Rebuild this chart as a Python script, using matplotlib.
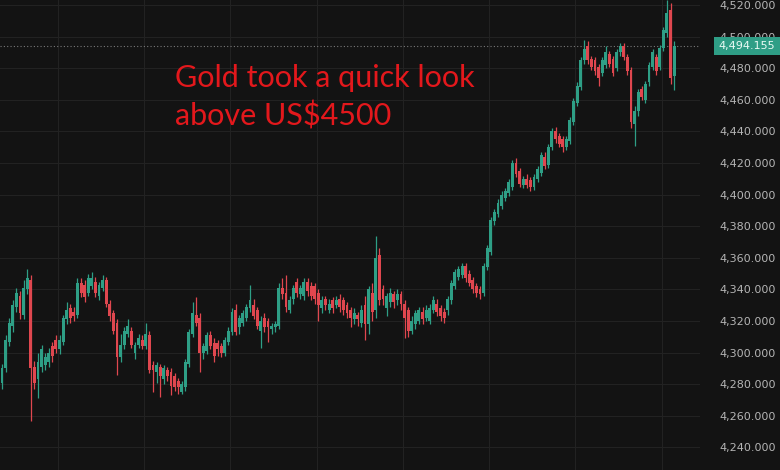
import numpy as np
import matplotlib.pyplot as plt
from matplotlib.ticker import FuncFormatter

# hourly gold candles (open, high, low, close)
opens = [
    4281, 4290, 4307, 4317, 4329, 4336, 4324, 4340, 4346, 4291,
    4283, 4291, 4292, 4294, 4304, 4308, 4302, 4307, 4321, 4328,
    4326, 4324, 4344, 4343, 4338, 4342, 4345, 4336, 4341, 4346,
    4331, 4325, 4319, 4297, 4305, 4312, 4314, 4300, 4305, 4308,
    4304, 4311, 4292, 4288, 4291, 4283, 4289, 4288, 4285, 4282,
    4275, 4278, 4293, 4312, 4324, 4322, 4300, 4301, 4311, 4306,
    4306, 4304, 4300, 4307, 4313, 4327, 4316, 4319, 4322, 4328,
    4330, 4327, 4314, 4322, 4320, 4315, 4316, 4317, 4341, 4338,
    4327, 4334, 4345, 4337, 4336, 4345, 4342, 4342, 4338, 4328,
    4334, 4327, 4333, 4330, 4334, 4333, 4330, 4327, 4321, 4324,
    4319, 4330, 4318, 4338, 4327, 4362, 4340, 4328, 4332, 4337,
    4333, 4337, 4331, 4327, 4314, 4318, 4320, 4326, 4322, 4320,
    4327, 4331, 4328, 4326, 4327, 4333, 4342, 4348, 4349, 4355,
    4350, 4346, 4342, 4340, 4338, 4354, 4364, 4383, 4388, 4393,
    4398, 4401, 4405, 4420, 4415, 4406, 4410, 4409, 4405, 4410,
    4414, 4424, 4419, 4430, 4440, 4437, 4435, 4430, 4434, 4446,
    4458, 4468, 4485, 4494, 4486, 4485, 4481, 4477, 4482, 4489,
    4486, 4480, 4490, 4494, 4487, 4479, 4445, 4453, 4467, 4460,
    4471, 4481, 4487, 4481, 4493, 4502, 4517, 4475,
]
highs = [
    4293, 4311, 4322, 4333, 4341, 4339, 4346, 4353, 4349, 4295,
    4300, 4305, 4300, 4303, 4307, 4311, 4311, 4324, 4332, 4331,
    4329, 4347, 4347, 4346, 4350, 4351, 4348, 4345, 4349, 4348,
    4333, 4327, 4321, 4312, 4316, 4321, 4316, 4307, 4312, 4311,
    4319, 4314, 4295, 4294, 4293, 4292, 4291, 4290, 4287, 4284,
    4282, 4296, 4315, 4332, 4335, 4325, 4306, 4313, 4314, 4309,
    4308, 4306, 4310, 4316, 4328, 4331, 4324, 4327, 4331, 4343,
    4334, 4329, 4323, 4325, 4322, 4319, 4320, 4344, 4347, 4349,
    4336, 4343, 4347, 4343, 4347, 4347, 4345, 4344, 4340, 4336,
    4336, 4334, 4335, 4336, 4337, 4335, 4332, 4329, 4328, 4326,
    4330, 4336, 4342, 4344, 4374, 4366, 4343, 4338, 4341, 4339,
    4340, 4339, 4333, 4329, 4323, 4327, 4329, 4329, 4330, 4331,
    4336, 4334, 4330, 4328, 4336, 4346, 4353, 4355, 4357, 4357,
    4352, 4348, 4344, 4342, 4357, 4368, 4386, 4391, 4397, 4402,
    4404, 4410, 4422, 4423, 4417, 4412, 4413, 4411, 4413, 4418,
    4427, 4427, 4432, 4442, 4443, 4439, 4437, 4437, 4449, 4461,
    4471, 4487, 4498, 4497, 4488, 4487, 4483, 4487, 4494, 4491,
    4488, 4492, 4496, 4496, 4489, 4481, 4456, 4467, 4469, 4472,
    4484, 4492, 4489, 4495, 4506, 4523, 4521, 4497,
]
lows = [
    4277, 4288, 4304, 4313, 4326, 4321, 4321, 4337, 4257, 4277,
    4271, 4288, 4289, 4291, 4294, 4300, 4299, 4305, 4318, 4319,
    4320, 4322, 4335, 4332, 4336, 4340, 4335, 4333, 4339, 4329,
    4320, 4312, 4286, 4294, 4302, 4310, 4303, 4296, 4303, 4302,
    4302, 4287, 4275, 4281, 4272, 4280, 4282, 4273, 4276, 4274,
    4274, 4276, 4291, 4310, 4317, 4288, 4296, 4299, 4302, 4294,
    4298, 4297, 4298, 4305, 4311, 4311, 4312, 4317, 4320, 4326,
    4321, 4315, 4303, 4313, 4307, 4312, 4313, 4315, 4334, 4326,
    4325, 4331, 4335, 4334, 4333, 4336, 4333, 4331, 4320, 4325,
    4327, 4325, 4325, 4328, 4326, 4324, 4322, 4316, 4318, 4317,
    4316, 4308, 4312, 4320, 4322, 4330, 4330, 4323, 4329, 4328,
    4330, 4327, 4309, 4310, 4312, 4315, 4318, 4318, 4320, 4318,
    4325, 4323, 4320, 4319, 4324, 4331, 4340, 4346, 4347, 4345,
    4342, 4338, 4335, 4334, 4336, 4352, 4362, 4381, 4386, 4391,
    4396, 4399, 4403, 4411, 4405, 4404, 4404, 4402, 4403, 4408,
    4412, 4416, 4417, 4428, 4433, 4430, 4427, 4428, 4432, 4444,
    4456, 4466, 4483, 4483, 4479, 4476, 4469, 4475, 4480, 4481,
    4475, 4478, 4488, 4485, 4476, 4442, 4431, 4450, 4460, 4458,
    4469, 4479, 4476, 4479, 4491, 4500, 4470, 4466,
]
closes = [
    4290, 4308, 4319, 4330, 4338, 4325, 4341, 4347, 4290, 4281,
    4294, 4302, 4297, 4300, 4298, 4302, 4308, 4322, 4327, 4322,
    4323, 4344, 4338, 4335, 4347, 4347, 4338, 4343, 4346, 4331,
    4323, 4314, 4297, 4305, 4314, 4317, 4305, 4305, 4309, 4304,
    4312, 4289, 4289, 4292, 4285, 4290, 4285, 4279, 4278, 4278,
    4280, 4294, 4313, 4325, 4319, 4300, 4304, 4311, 4304, 4298,
    4302, 4300, 4308, 4314, 4326, 4313, 4322, 4325, 4329, 4333,
    4323, 4317, 4320, 4316, 4316, 4317, 4318, 4341, 4337, 4329,
    4333, 4341, 4338, 4341, 4345, 4339, 4336, 4334, 4330, 4333,
    4330, 4331, 4328, 4333, 4329, 4327, 4325, 4322, 4325, 4321,
    4327, 4318, 4340, 4326, 4360, 4333, 4334, 4336, 4338, 4332,
    4337, 4331, 4322, 4314, 4320, 4325, 4327, 4321, 4327, 4328,
    4333, 4326, 4323, 4322, 4334, 4344, 4351, 4353, 4355, 4347,
    4344, 4340, 4338, 4337, 4355, 4366, 4384, 4389, 4395, 4400,
    4402, 4408, 4420, 4413, 4407, 4410, 4406, 4405, 4411, 4416,
    4425, 4418, 4430, 4440, 4435, 4432, 4430, 4435, 4447, 4459,
    4469, 4485, 4492, 4485, 4481, 4478, 4474, 4485, 4490, 4483,
    4477, 4490, 4494, 4487, 4478, 4446, 4453, 4465, 4462, 4470,
    4482, 4490, 4478, 4493, 4504, 4515, 4474, 4494.155,
]

last_price = closes[-1]
y_ticks = np.arange(4240, 4521, 20)
day_lines = [15.5, 39.5, 63.5, 87.5, 111.5, 135.5, 159.5, 183.5]

bg = "#131313"
up_col = "#2e9f86"
down_col = "#e0474f"

o = np.array(opens, dtype=float)
c = np.array(closes, dtype=float)
idx = np.arange(len(opens))
cols = np.where(c >= o, up_col, down_col)

fig = plt.figure(figsize=(7.8, 4.7), dpi=100, facecolor=bg)
ax = fig.add_axes([0, 0, 700 / 780, 1])
ax.set_facecolor(bg)

# wicks then bodies
ax.vlines(idx, lows, highs, colors=cols, linewidth=0.9, zorder=3)
bottoms = np.minimum(o, c)
heights = np.maximum(np.abs(c - o), 0.8)
ax.bar(idx, heights, bottom=bottoms, width=0.8, color=cols, linewidth=0, zorder=4)

ax.set_xlim(-0.56, 194.2)
ax.set_ylim(4225.7, 4523.2)

# grid
for t in y_ticks:
    ax.axhline(t, color="#222222", linewidth=0.8, zorder=1)
for d in day_lines:
    ax.axvline(d, color="#222222", linewidth=0.8, zorder=1)

# last price line
ax.axhline(last_price, color="#7a7a7a", linewidth=0.8, linestyle=(0, (1, 2)), zorder=2)

for s in ax.spines.values():
    s.set_visible(False)
ax.set_xticks([])
ax.yaxis.tick_right()
ax.set_yticks(y_ticks)
ax.yaxis.set_major_formatter(FuncFormatter(lambda v, p: f"{v:,.3f}"))
ax.tick_params(axis="y", length=0, pad=14, labelsize=8, labelcolor="#b5b5b5")

# price tag on the axis
fig.text(747 / 780, 1 - 46 / 470, f"{last_price:,.3f}", ha="center", va="center",
         fontsize=8, color="#eafaf4", zorder=10,
         bbox=dict(boxstyle="square,pad=0.4", facecolor="#2f9e86", edgecolor="none"))

# annotation
ax.text(175 / 700, 1 - 64 / 470, "Gold took a quick look\nabove US$4500", transform=ax.transAxes,
        ha="left", va="top", fontsize=22, family=["Lato", "DejaVu Sans"],
        color="#e3181c", linespacing=1.4, zorder=6)

fig.savefig("out.png", dpi=100, facecolor=bg)
